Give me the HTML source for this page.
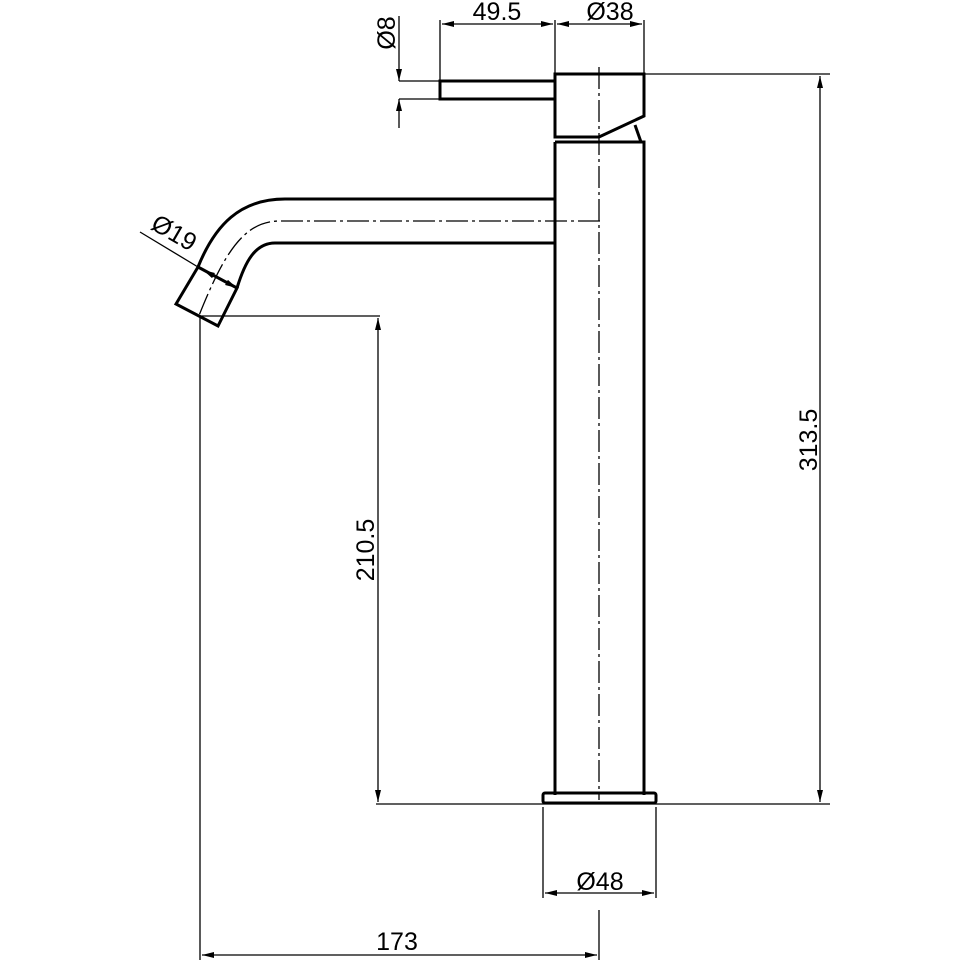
<!DOCTYPE html>
<html><head><style>body{margin:0;background:#fff}svg{display:block}</style></head><body>
<svg width="963" height="963" viewBox="0 0 963 963" xmlns="http://www.w3.org/2000/svg">
<defs>
<marker id="a" viewBox="0 0 12 6" refX="12" refY="3" markerWidth="12" markerHeight="6" orient="auto-start-reverse" markerUnits="userSpaceOnUse"><path d="M0,0L12,3L0,6z" fill="#000"/></marker>
</defs>
<g fill="none" stroke="#000" stroke-width="3">
<rect x="440" y="81" width="115" height="18"/>
<path d="M555,74H644V116L599,137H555Z"/>
<path d="M635,125L641,142"/>
<path d="M555,142H644V795M555,142V795"/>
<rect x="543" y="793" width="113" height="10" rx="2"/>
<path d="M555,199H285C240,199 215,225 198,267"/>
<path d="M555,243H275C255,243 245,262 237,288"/>
<path d="M198,267L237,288L218,326L176,304Z"/>
</g>
<g fill="none" stroke="#000" stroke-width="1.3" stroke-dasharray="22,4,3,4">
<path d="M599,67V800"/>
<path d="M600,221H280C245,221 225,250 198,318"/>
</g>
<g fill="none" stroke="#000" stroke-width="1.3">
<path d="M440,81V20M555,74V20M644,74V20"/>
<path d="M442,24H553" marker-start="url(#a)" marker-end="url(#a)"/>
<path d="M557,24H642" marker-start="url(#a)" marker-end="url(#a)"/>
<path d="M399,81H440M399,99H440"/>
<path d="M399,16V81" marker-end="url(#a)"/>
<path d="M399,128V99" marker-end="url(#a)"/>
<path d="M644,74H830M376,804H830"/>
<path d="M820,76V802" marker-start="url(#a)" marker-end="url(#a)"/>
<path d="M200,316H380"/>
<path d="M378,318V802" marker-start="url(#a)" marker-end="url(#a)"/>
<path d="M200,316V960M599,910V960"/>
<path d="M202,955H597" marker-start="url(#a)" marker-end="url(#a)"/>
<path d="M543,807V898M656,807V898"/>
<path d="M545,893H654" marker-start="url(#a)" marker-end="url(#a)"/>
<path d="M140,232L198,267"/>
<path d="M203,270L237,288" marker-start="url(#a)" marker-end="url(#a)"/>
</g>
<g font-family="Liberation Sans, sans-serif" font-size="25" fill="#000" text-anchor="middle">
<text x="497" y="20">49.5</text>
<text x="610" y="20">Ø38</text>
<text x="600" y="890">Ø48</text>
<text x="397" y="950">173</text>
<text transform="translate(395,33) rotate(-90)">Ø8</text>
<text transform="translate(374,550) rotate(-90)">210.5</text>
<text transform="translate(817,440) rotate(-90)">313.5</text>
<text transform="translate(170,240) rotate(30)">Ø19</text>
</g>
</svg>
</body></html>
